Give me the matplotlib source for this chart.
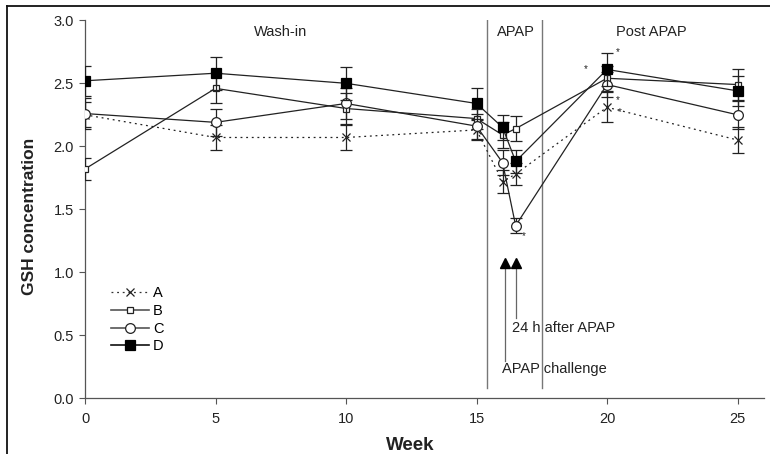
import matplotlib
matplotlib.use("Agg")
import matplotlib.pyplot as plt
from matplotlib.lines import Line2D

plt.rcParams['font.family'] = ['Liberation Sans', 'DejaVu Sans']

weeks = [0, 5, 10, 15, 16, 16.5, 20, 25]
A = [2.25, 2.07, 2.07, 2.13, 1.72, 1.78, 2.31, 2.05]
A_err = [0.10, 0.10, 0.10, 0.08, 0.09, 0.09, 0.12, 0.10]
B = [1.82, 2.46, 2.30, 2.22, 2.09, 2.14, 2.54, 2.49]
B_err = [0.09, 0.12, 0.12, 0.08, 0.10, 0.10, 0.10, 0.12]
C = [2.26, 2.19, 2.34, 2.16, 1.87, 1.37, 2.49, 2.25]
C_err = [0.12, 0.11, 0.12, 0.10, 0.10, 0.06, 0.10, 0.11]
D = [2.52, 2.58, 2.50, 2.34, 2.15, 1.88, 2.61, 2.44]
D_err = [0.12, 0.13, 0.13, 0.12, 0.10, 0.09, 0.13, 0.12]

phase_bounds = [15.4, 17.5]
phase_labels = ["Wash-in", "APAP", "Post APAP"]
phase_label_x = [7.5, 16.5, 21.7]
stars = [(19.2, 2.61), (20.4, 2.75), (20.4, 2.37), (20.5, 2.27), (16.8, 1.29)]
arrow_x = [16.1, 16.52]
arrow_text = ["APAP challenge", "24 h after APAP"]
arrow_bottom = [0.30, 0.64]
arrow_text_pos = [(15.98, 0.235), (16.36, 0.558)]

fig = plt.figure(figsize=(7.7, 4.54), dpi=100)
ax = fig.add_axes([85/770, 1 - 398.3/454, 678.6/770, 378/454])

lc = '#222222'
ax.errorbar(weeks, A, yerr=A_err, color=lc, ls=(0, (1.5, 3)), lw=0.9, marker='x', ms=6,
            mew=0.9, mfc='none', mec=lc, capsize=4, elinewidth=0.9, ecolor=lc, zorder=3)
ax.errorbar(weeks, B, yerr=B_err, color=lc, ls='-', lw=0.9, marker='s', ms=5,
            mew=0.9, mfc='white', mec=lc, capsize=4, elinewidth=0.9, ecolor=lc, zorder=4)
ax.errorbar(weeks, C, yerr=C_err, color=lc, ls='-', lw=0.9, marker='o', ms=7,
            mew=0.9, mfc='white', mec=lc, capsize=4, elinewidth=0.9, ecolor=lc, zorder=5)
ax.errorbar(weeks, D, yerr=D_err, color=lc, ls='-', lw=0.9, marker='s', ms=7,
            mew=0.9, mfc='black', mec='black', capsize=4, elinewidth=0.9, ecolor=lc, zorder=6)

for xb in phase_bounds:
    ax.plot([xb, xb], [0.08, 3.0], color='#777777', lw=1.0, zorder=2)

for lab, xl in zip(phase_labels, phase_label_x):
    ax.text(xl, 2.91, lab, ha='center', va='center', fontsize=10.5, color='#222222')

for sx, sy in stars:
    ax.text(sx, sy, '*', ha='center', va='center', fontsize=7, color='#222222')

for xa, yb, t, (tx, ty) in zip(arrow_x, arrow_bottom, arrow_text, arrow_text_pos):
    ax.plot([xa, xa], [yb, 1.03], color='#666666', lw=0.9, zorder=2)
    ax.plot([xa], [1.07], marker='^', ms=6.5, color='black', zorder=3)
    ax.text(tx, ty, t, ha='left', va='center', fontsize=10.5, color='#222222')

ax.set_xlim(0, 26)
ax.set_ylim(0, 3.0)
ax.set_xticks([0, 5, 10, 15, 20, 25])
ax.set_yticks([0.0, 0.5, 1.0, 1.5, 2.0, 2.5, 3.0])
ax.set_yticklabels(['0.0', '0.5', '1.0', '1.5', '2.0', '2.5', '3.0'])
for s in ['top', 'right']:
    ax.spines[s].set_visible(False)
for s in ['left', 'bottom']:
    ax.spines[s].set_color('#555555')
    ax.spines[s].set_linewidth(0.9)
ax.tick_params(direction='out', length=4, width=0.8, colors='#555555', labelcolor='#222222',
               labelsize=10.5, pad=4)
ax.tick_params(axis='x', pad=6)

ax.set_xlabel('Week', fontsize=13.5, fontweight='bold', color='#222222')
ax.xaxis.set_label_coords(0.48, -0.102)
ax.set_ylabel('GSH concentration', fontsize=12.5, fontweight='bold', color='#222222')
ax.yaxis.set_label_coords(-0.071, 0.48)

handles = [
    Line2D([], [], color='#333333', ls=(0, (1.5, 3)), lw=0.9, marker='x', ms=6, mec=lc, mew=0.9),
    Line2D([], [], color='#555555', ls='-', lw=1.2, marker='s', ms=5, mfc='white', mec=lc, mew=0.9),
    Line2D([], [], color='#555555', ls='-', lw=1.2, marker='o', ms=7, mfc='white', mec=lc, mew=0.9),
    Line2D([], [], color='#111111', ls='-', lw=1.2, marker='s', ms=7, mfc='black', mec='black', mew=0.9),
]
ax.legend(handles, ['A', 'B', 'C', 'D'], loc='upper left', bbox_to_anchor=(0.038, 0.296),
          frameon=False, fontsize=10.5, handlelength=2.6, handletextpad=0.3, borderpad=0,
          borderaxespad=0, labelspacing=0.25)

fig.add_artist(Line2D([7/770, 1.0], [1 - 6/454, 1 - 6/454], color='#111111', lw=1.3,
                      transform=fig.transFigure))
fig.add_artist(Line2D([7/770, 7/770], [0, 1 - 6/454], color='#111111', lw=1.3,
                      transform=fig.transFigure))

fig.savefig('out.png', dpi=100)
